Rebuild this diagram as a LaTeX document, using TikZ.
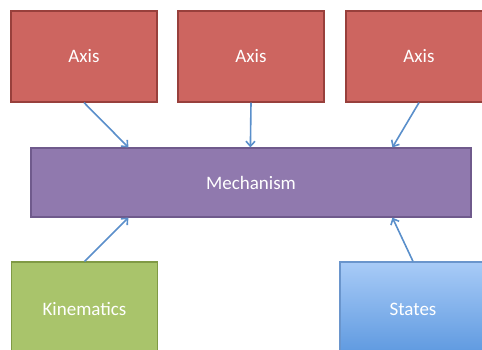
\documentclass[tikz,border=0pt]{standalone}
\usepackage{fontspec}
\setmainfont{Carlito}
\usetikzlibrary{arrows.meta,calc}
\definecolor{axisfill}{HTML}{CD6560}
\definecolor{axisline}{HTML}{98403C}
\definecolor{mechfill}{HTML}{9079AE}
\definecolor{mechline}{HTML}{6F5A8C}
\definecolor{kinfill}{HTML}{A9C46B}
\definecolor{kinline}{HTML}{809A45}
\definecolor{sttop}{HTML}{A8CBF7}
\definecolor{stbot}{HTML}{5895DE}
\definecolor{stline}{HTML}{6A95CC}
\definecolor{link}{HTML}{5A8FCB}
\tikzset{
  labelfont/.style={text=white, font=\fontsize{19}{23}\selectfont},
  box/.style={rectangle, inner sep=0pt, line width=1.2pt, labelfont},
  axisbox/.style={box, fill=axisfill, draw=axisline, minimum width=146pt, minimum height=91pt},
  mechbox/.style={box, fill=mechfill, draw=mechline, minimum width=440pt, minimum height=69pt},
  kinbox/.style={box, fill=kinfill, draw=kinline, minimum width=146pt, minimum height=100pt},
  statebox/.style={box, top color=sttop, bottom color=stbot, draw=stline, minimum width=146pt, minimum height=100pt},
  link/.style={draw=link, line width=1.6pt, -{Straight Barb[length=5pt,width=9pt,line width=1.6pt]}}
}
\begin{document}
\begin{tikzpicture}[x=1pt,y=-1pt]
\useasboundingbox (0,0) rectangle (482,349);
\clip (0,0) rectangle (482,349);
\fill[white] (0,0) rectangle (482,349);

% three axes along the top
\node[axisbox] (ax1) at (84,56.5) {Axis};
\node[axisbox] (ax2) at (251,56.5) {Axis};
\node[axisbox] (ax3) at (419,56.5) {Axis};
% central mechanism
\node[mechbox] (mech) at (251,182.5) {Mechanism};
% inputs below, running off the lower edge
\node[kinbox] (kin) at (84.5,312) {};
\node[statebox] (st) at (413,312) {};
\node[labelfont] (kinlabel) at (84.5,309) {Kinematics};
\node[labelfont] (stlabel) at (413,309) {States};

\coordinate (m1) at ($(mech.north west)+(98,0)$);
\coordinate (m2) at ($(mech.north west)+(220,0)$);
\coordinate (m3) at ($(mech.north west)+(362,0)$);
\coordinate (b1) at ($(mech.south west)+(98,0)$);
\coordinate (b3) at ($(mech.south west)+(362,0)$);

\draw[link] (ax1.south) -- (m1);
\draw[link] (ax2.south) -- (m2);
\draw[link] (ax3.south) -- (m3);
\draw[link] (kin.north) -- (b1);
\draw[link] (st.north) -- (b3);
\end{tikzpicture}
\end{document}
